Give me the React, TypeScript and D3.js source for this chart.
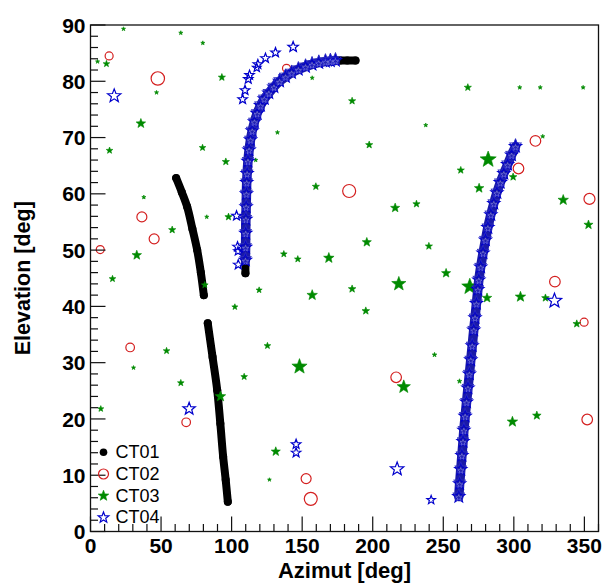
import React from 'react';
import * as d3 from 'd3';

// ---- Data (azimut [deg], elevation [deg], marker size [px]) ----
// CT01: two dense tracks (filled circles) + the arc under CT04
const ct01TrackA: [number, number][] = [
  [60.7, 62.8], [64.7, 60.3], [68.5, 57.7], [72.2, 53.8], [75.6, 50.0], [78.2, 46.0], [80.3, 42.0],
];
const ct01TrackB: [number, number][] = [
  [83.1, 37.0], [86.5, 31.0], [89.8, 25.1], [92.0, 19.2], [94.0, 13.3], [95.8, 9.2], [97.3, 5.3],
];
const ct01Arc: [number, number][] = [
  [109.8, 45.9], [109.8, 48.2], [110.0, 53.0], [110.3, 57.7], [110.7, 62.0], [111.0, 63.6], [111.6, 65.8],
  [112.4, 67.8], [113.4, 69.6], [114.6, 71.2], [116.2, 72.8], [118.1, 74.3], [120.5, 75.7], [123.2, 76.9],
  [126.4, 77.9], [130.0, 79.0], [134.0, 80.0], [138.2, 80.8], [142.5, 81.5], [147.3, 82.1], [152.4, 82.6],
  [157.0, 83.0], [161.8, 83.3], [166.5, 83.5], [170.0, 83.6], [173.6, 83.7], [177.0, 83.7], [182.0, 83.7],
  [187.8, 83.7],
];

// CT02: open red circles
const ct02Points: [number, number, number][] = [
  [13.2, 84.5, 4], [47.7, 80.5, 6.7], [36.4, 55.9, 5], [45.1, 52.0, 5], [6.9, 50.1, 4], [138.9, 82.3, 4],
  [28.1, 32.7, 4.3], [67.8, 19.4, 4.3], [315.3, 69.4, 5.3], [303.3, 64.5, 5.3], [183.3, 60.5, 6.5],
  [353.6, 59.1, 5.5], [329.1, 44.4, 5.3], [349.8, 37.2, 4], [216.6, 27.4, 5.3], [352.0, 19.9, 5.3],
  [152.8, 9.4, 5], [156.1, 5.8, 6.5],
];

// CT03: filled green stars
const ct03Points: [number, number, number][] = [
  [23.4, 89.3, 2.2], [64.0, 88.6, 2.2], [79.6, 86.8, 2.2], [5.0, 83.5, 2.2], [11.3, 83.1, 3.5],
  [93.1, 80.7, 3.8], [46.8, 78.0, 2.2], [35.7, 72.5, 5], [13.5, 67.7, 3.5], [79.4, 68.2, 3.5],
  [132.5, 70.9, 2.2], [95.9, 65.7, 3.8], [117.1, 66.0, 2.2], [37.8, 59.4, 2.2], [82.4, 55.9, 2.2],
  [97.8, 55.9, 3.8], [57.9, 53.6, 3.8], [32.8, 49.1, 5], [137.0, 49.3, 3.5], [146.9, 48.4, 3.5],
  [15.6, 44.9, 3.5], [81.0, 43.8, 3.5], [119.5, 42.9, 3.2], [102.3, 39.9, 3.2], [53.9, 32.1, 3.5],
  [30.5, 29.1, 2.2], [125.4, 33.0, 3.5], [148.1, 29.3, 8], [64.0, 26.4, 3.5], [108.9, 27.5, 3.5],
  [92.1, 24.0, 5.5], [7.3, 21.8, 3.2], [131.3, 14.2, 4.8], [126.8, 9.2, 2.0], [157.1, 80.6, 2.2],
  [185.4, 76.5, 3.8], [267.4, 78.9, 3.8], [304.2, 78.9, 2.2], [318.7, 78.9, 2.2], [349.1, 78.9, 2.2],
  [237.6, 72.2, 2.2], [320.5, 70.2, 2.2], [197.5, 68.7, 3.8], [281.8, 66.1, 8.5], [262.4, 64.2, 3.8],
  [299.5, 63.0, 4], [159.7, 61.3, 3.8], [275.4, 61.0, 5], [335.0, 58.9, 5.5], [215.9, 57.5, 4.8],
  [231.0, 58.2, 3.8], [352.9, 54.5, 4.8], [195.8, 51.4, 4.8], [239.8, 50.7, 3.8], [168.9, 48.6, 5.5],
  [252.0, 45.9, 4.8], [218.5, 44.0, 7.5], [268.8, 43.5, 8.5], [157.1, 42.0, 5.5], [185.4, 43.1, 4],
  [304.7, 41.7, 5.5], [322.4, 41.5, 4], [281.0, 41.5, 5], [195.1, 39.2, 4], [344.6, 36.9, 4],
  [243.8, 31.4, 2.5], [222.0, 25.7, 7], [261.5, 26.7, 2.5], [299.0, 19.5, 5.5], [316.3, 20.6, 4.5],
];

// CT04: open blue stars, two dense tracks + scattered points
const ct04Arc: [number, number][] = [
  [109.8, 48.2], [109.9, 50.5], [110.0, 53.0], [110.1, 55.5], [110.3, 57.7], [110.5, 60.0], [110.7, 62.0],
  [111.0, 63.6], [111.6, 65.8], [112.4, 67.8], [113.4, 69.6], [114.6, 71.2], [116.2, 72.8], [118.1, 74.3],
  [120.5, 75.7], [123.2, 76.9], [126.4, 77.9], [130.0, 79.0], [134.0, 80.0], [138.2, 80.8], [142.5, 81.5],
  [147.3, 82.1], [152.4, 82.6], [157.0, 83.0], [161.8, 83.3], [166.5, 83.5], [170.0, 83.6], [173.6, 83.7],
];
const ct04Track: [number, number][] = [
  [261.0, 6.2], [261.6, 8.5], [262.4, 11.0], [263.2, 13.5], [264.0, 16.0], [264.6, 18.0], [265.5, 20.5],
  [266.5, 23.0], [267.5, 25.5], [268.5, 28.0], [269.5, 30.5], [270.5, 33.0], [271.6, 35.8], [272.5, 38.0],
  [273.5, 40.5], [274.5, 43.0], [275.2, 44.7], [276.5, 47.0], [278.2, 49.5], [279.9, 51.8], [281.6, 54.0],
  [283.7, 56.3], [285.8, 58.3], [288.0, 60.2], [290.4, 62.0], [292.9, 63.6], [295.6, 65.2], [298.4, 66.9],
  [301.2, 68.4],
];
const ct04Points: [number, number, number][] = [
  [16.8, 77.4, 7], [143.6, 86.1, 5.5], [131.1, 85.1, 5], [124.0, 84.1, 5], [118.6, 83.0, 5],
  [117.8, 82.4, 4.5], [112.7, 81.1, 5], [111.8, 80.4, 5], [109.5, 78.4, 5], [107.8, 76.8, 5],
  [103.5, 56.1, 5], [104.2, 50.6, 5], [104.5, 49.8, 4.5], [104.7, 47.4, 5], [69.9, 21.8, 6.5],
  [145.7, 15.5, 5], [145.7, 14.0, 5], [217.3, 11.1, 7], [241.4, 5.6, 4.5], [328.8, 41.0, 7.5],
];

const legendLabels = ['CT01', 'CT02', 'CT03', 'CT04'];
const xDomain: [number, number] = [0, 360];
const yDomain: [number, number] = [0, 90];
const xTitle = 'Azimut [deg]';
const yTitle = 'Elevation [deg]';

// ---- Layout ----
const W = 602;
const H = 583;
const L = 90.5;
const R = 598.5;
const T = 25;
const B = 531.5;

const RED = '#d42020';
const GREEN = '#008a00';
const BLUE = '#0000cc';

function starPath(cx: number, cy: number, r: number): string {
  const inner = r * 0.42;
  const pts: string[] = [];
  for (let i = 0; i < 10; i++) {
    const a = -Math.PI / 2 + (i * Math.PI) / 5;
    const rr = i % 2 === 0 ? r : inner;
    pts.push(`${(cx + rr * Math.cos(a)).toFixed(2)},${(cy + rr * Math.sin(a)).toFixed(2)}`);
  }
  return 'M' + pts.join('L') + 'Z';
}

export default function App() {
  const x = d3.scaleLinear().domain(xDomain).range([L, R]);
  const y = d3.scaleLinear().domain(yDomain).range([B, T]);
  const line = d3
    .line<[number, number]>()
    .x((d) => x(d[0]))
    .y((d) => y(d[1]))
    .curve(d3.curveCatmullRom);

  const xMajor = x.ticks(7);
  const xMinor = x.ticks(36).filter((v) => !xMajor.includes(v));
  const yMajor = y.ticks(9);
  const yMinor = y.ticks(45).filter((v) => !yMajor.includes(v));
  const majLen = 15;
  const minLen = 7.5;
  const font = '"Liberation Sans", Arial, Helvetica, sans-serif';

  const legendY = [452.3, 474, 495.8, 517.6];
  const legendX = 103.5;

  return (
    <svg
      width={W}
      height={H}
      viewBox={`0 0 ${W} ${H}`}
      style={{ position: 'absolute', left: 0, top: 0, background: '#fff' }}
      fontFamily={font}
    >
      <rect x={0} y={0} width={W} height={H} fill="#fff" />
      <defs>
        <clipPath id="plotclip">
          <rect x={L} y={T} width={R - L} height={B - T} />
        </clipPath>
      </defs>

      <g clipPath="url(#plotclip)">
        {/* CT01 */}
        {[ct01TrackA, ct01TrackB, ct01Arc].map((trk, i) => (
          <g key={'c1' + i}>
            <path d={line(trk) || ''} fill="none" stroke="#000" strokeWidth={8} strokeLinecap="round" strokeLinejoin="round" />
            {trk.map((d, j) => (
              <circle key={j} cx={x(d[0])} cy={y(d[1])} r={4} fill="#000" />
            ))}
          </g>
        ))}
        {/* CT02 */}
        {ct02Points.map((d, i) => (
          <circle key={'c2' + i} cx={x(d[0])} cy={y(d[1])} r={d[2]} fill="none" stroke={RED} strokeWidth={1.2} />
        ))}
        {/* CT03 */}
        {ct03Points.map((d, i) => (
          <path key={'c3' + i} d={starPath(x(d[0]), y(d[1]), d[2])} fill={GREEN} stroke={GREEN} strokeWidth={0.6} strokeLinejoin="round" />
        ))}
        {/* CT04 tracks */}
        {[ct04Arc, ct04Track].map((trk, i) => (
          <g key={'c4t' + i}>
            <path d={line(trk) || ''} fill="none" stroke="#1a1aa8" strokeWidth={9.5} strokeLinecap="round" strokeLinejoin="round" />
            {trk.map((d, j) => (
              <path key={j} d={starPath(x(d[0]), y(d[1]), 6.5)} fill="none" stroke={BLUE} strokeWidth={1.1} strokeLinejoin="miter" />
            ))}
            {trk.map((d, j) => (
              <path key={'b' + j} d={starPath(x(d[0]), y(d[1]) - 1.6, 6.3)} fill="none" stroke="#2a2ac0" strokeWidth={0.9} />
            ))}
            {trk.map((d, j) => (
              <path key={'c' + j} d={starPath(x(d[0]), y(d[1]) + 1.2, 3.2)} fill="none" stroke="#8a8ae0" strokeWidth={0.6} />
            ))}
          </g>
        ))}
        {/* CT04 scattered */}
        {ct04Points.map((d, i) => (
          <path key={'c4' + i} d={starPath(x(d[0]), y(d[1]), d[2])} fill="none" stroke={BLUE} strokeWidth={1.2} strokeLinejoin="miter" />
        ))}
      </g>

      {/* frame */}
      <rect x={L} y={T} width={R - L} height={B - T} fill="none" stroke="#111" strokeWidth={1.3} />

      {/* x ticks */}
      {xMajor.map((v) => (
        <line key={'xM' + v} x1={x(v)} x2={x(v)} y1={B} y2={B - majLen} stroke="#111" strokeWidth={1.2} />
      ))}
      {xMinor.map((v) => (
        <line key={'xm' + v} x1={x(v)} x2={x(v)} y1={B} y2={B - minLen} stroke="#111" strokeWidth={1.2} />
      ))}
      {xMajor.map((v) => (
        <text key={'xl' + v} x={x(v)} y={553.3} textAnchor="middle" fontSize={21} fontWeight="bold" fill="#000">
          {v}
        </text>
      ))}

      {/* y ticks */}
      {yMajor.map((v) => (
        <line key={'yM' + v} x1={L} x2={L + majLen} y1={y(v)} y2={y(v)} stroke="#111" strokeWidth={1.2} />
      ))}
      {yMinor.map((v) => (
        <line key={'ym' + v} x1={L} x2={L + minLen} y1={y(v)} y2={y(v)} stroke="#111" strokeWidth={1.2} />
      ))}
      {yMajor.map((v) => (
        <text key={'yl' + v} x={85.5} y={y(v)} dy="0.36em" textAnchor="end" fontSize={21} fontWeight="bold" fill="#000">
          {v}
        </text>
      ))}

      {/* axis titles */}
      <text x={(L + R) / 2} y={578} textAnchor="middle" fontSize={22} fontWeight="bold" fill="#000">
        {xTitle}
      </text>
      <text transform={`translate(29.5, ${(T + B) / 2}) rotate(-90)`} textAnchor="middle" fontSize={21.5} fontWeight="bold" fill="#000">
        {yTitle}
      </text>

      {/* legend */}
      <g>
        <circle cx={legendX} cy={legendY[0]} r={3.8} fill="#000" />
        <circle cx={legendX} cy={legendY[1]} r={5} fill="none" stroke={RED} strokeWidth={1.2} />
        <path d={starPath(legendX, legendY[2], 5.6)} fill={GREEN} stroke={GREEN} strokeWidth={0.6} />
        <path d={starPath(legendX, legendY[3], 5.6)} fill="none" stroke={BLUE} strokeWidth={1.2} />
        {legendLabels.map((t, i) => (
          <text key={t} x={115.5} y={legendY[i] + 5.8} fontSize={18} fill="#000">
            {t}
          </text>
        ))}
      </g>
    </svg>
  );
}
